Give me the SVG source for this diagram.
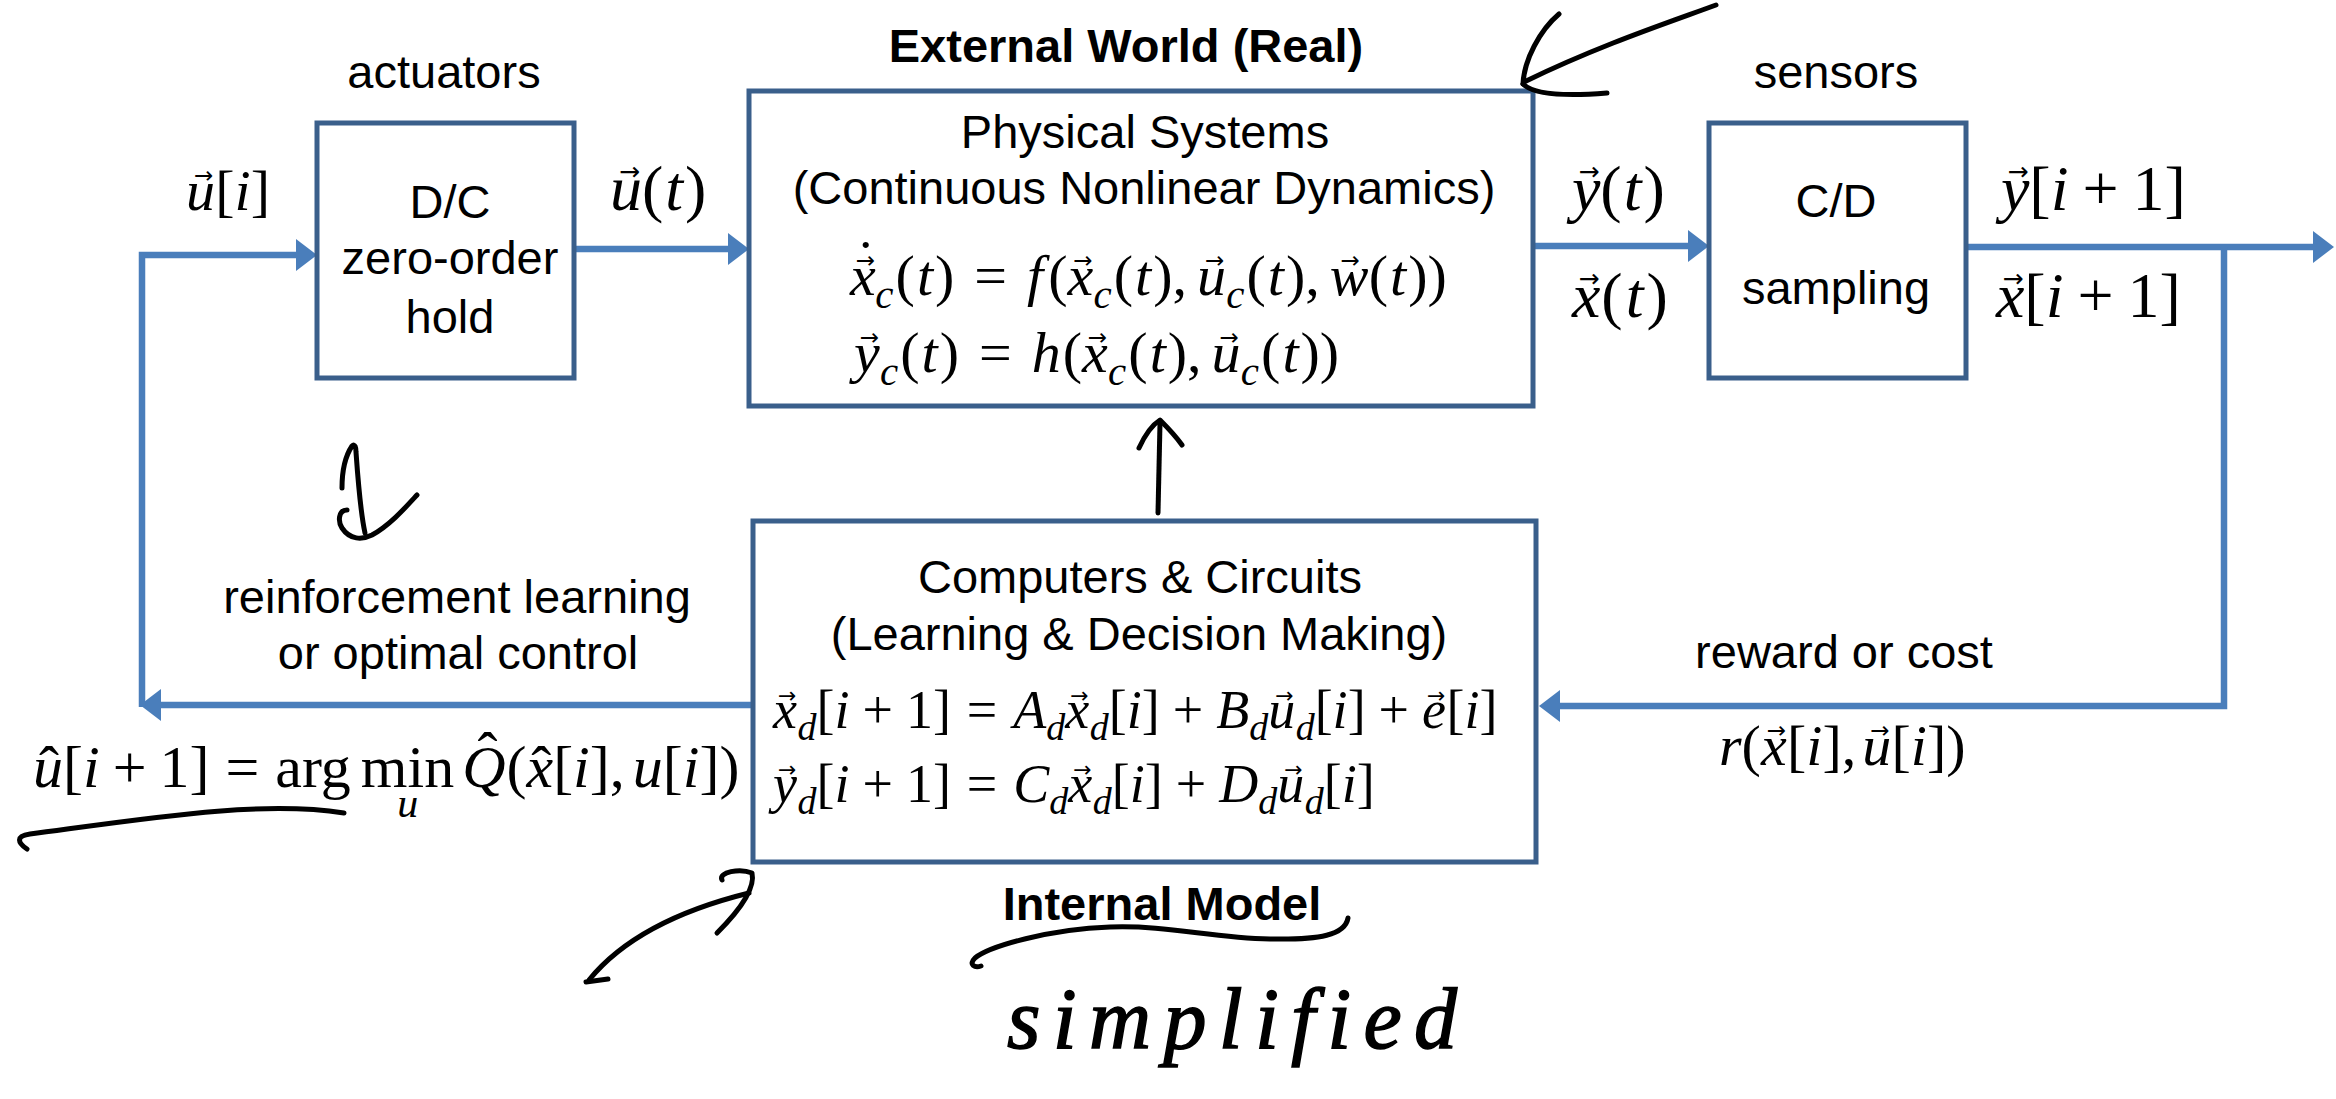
<svg xmlns="http://www.w3.org/2000/svg" width="2336" height="1099" viewBox="0 0 2336 1099">
<style>
.box{fill:#fff;stroke:#3A5F8B;stroke-width:5}
.ln{fill:none;stroke:#4A7EBB;stroke-width:6.5}
.t{font-family:"Liberation Sans",Arial,sans-serif;font-size:47px;fill:#000;text-anchor:middle}
.b{font-weight:bold}
.m{font-family:"Liberation Serif","Times New Roman",serif;font-size:54px;font-style:italic;fill:#000}
.L{font-size:58px}
.Q{font-size:60px}
.X{font-size:64px}
.r{font-style:normal}
.sb{font-size:38px}
.sbL{font-size:41px}
.sbQ{font-size:42px}
.ar{font-family:"DejaVu Sans",sans-serif;font-size:22px;font-style:normal}
.arL{font-family:"DejaVu Sans",sans-serif;font-size:23px;font-style:normal}
.arX{font-family:"DejaVu Sans",sans-serif;font-size:25px;font-style:normal}
.hw{fill:none;stroke:#000;stroke-width:5;stroke-linecap:round;stroke-linejoin:round}
.hwt{font-family:"Liberation Serif",serif;font-style:italic;font-size:86px;fill:#000;stroke:#000;stroke-width:1.5}
</style>
<defs>
<marker id="ah" markerUnits="userSpaceOnUse" markerWidth="22" markerHeight="34" refX="10" refY="16" orient="auto"><path d="M0,0 L21,16 L0,32 z" fill="#4A7EBB"/></marker>
</defs>
<rect width="2336" height="1099" fill="#fff"/>

<g id="connectors">
<path class="ln" d="M574,249 L738,249" marker-end="url(#ah)"/>
<path class="ln" d="M1533,246 L1698,246" marker-end="url(#ah)"/>
<path class="ln" d="M1966,247 L2323,247" marker-end="url(#ah)"/>
<path class="ln" d="M2224,247 L2224,706 L1550,706" marker-end="url(#ah)"/>
<path class="ln" d="M753,705 L151,705" marker-end="url(#ah)"/>
<path class="ln" d="M142,707 L142,255 L306,255" marker-end="url(#ah)"/>
</g>

<g id="node-actuators">
<rect class="box" x="317" y="123" width="257" height="255"/>
<text class="t" x="450" y="218">D/C</text>
<text class="t" x="450" y="274">zero-order</text>
<text class="t" x="450" y="333">hold</text>
</g>

<g id="node-physical">
<rect class="box" x="749" y="91" width="784" height="315"/>
<text class="t" x="1145" y="148">Physical Systems</text>
<text class="t" x="1144" y="204">(Continuous Nonlinear Dynamics)</text>
<text class="m L" x="850" y="295">x<tspan class="arL" dx="-20" dy="-27">→</tspan><tspan class="r" dx="-19" dy="12">˙</tspan><tspan class="sbL" dy="28">c</tspan><tspan class="r" dx="2" dy="-13">(</tspan><tspan dx="2">t</tspan><tspan class="r" dx="2">)</tspan><tspan class="r" dx="20">=</tspan><tspan dx="20">f</tspan><tspan class="r" dx="5">(</tspan>x<tspan class="arL" dx="-20" dy="-27">→</tspan><tspan class="sbL" dx="1" dy="40">c</tspan><tspan class="r" dx="2" dy="-13">(</tspan><tspan dx="2">t</tspan><tspan class="r" dx="2">),</tspan><tspan dx="10">u</tspan><tspan class="arL" dx="-21" dy="-27">→</tspan><tspan class="sbL" dx="2" dy="40">c</tspan><tspan class="r" dx="2" dy="-13">(</tspan><tspan dx="2">t</tspan><tspan class="r" dx="2">),</tspan><tspan dx="10">w</tspan><tspan class="arL" dx="-28" dy="-27">→</tspan><tspan class="r" dx="9" dy="27">(</tspan><tspan dx="2">t</tspan><tspan class="r" dx="2">))</tspan></text>
<text class="m L" x="854" y="372">y<tspan class="arL" dx="-20" dy="-27">→</tspan><tspan class="sbL" dx="1" dy="40">c</tspan><tspan class="r" dx="2" dy="-13">(</tspan><tspan dx="2">t</tspan><tspan class="r" dx="2">)</tspan><tspan class="r" dx="20">=</tspan><tspan dx="20">h</tspan><tspan class="r" dx="2">(</tspan>x<tspan class="arL" dx="-20" dy="-27">→</tspan><tspan class="sbL" dx="1" dy="40">c</tspan><tspan class="r" dx="2" dy="-13">(</tspan><tspan dx="2">t</tspan><tspan class="r" dx="2">),</tspan><tspan dx="10">u</tspan><tspan class="arL" dx="-21" dy="-27">→</tspan><tspan class="sbL" dx="2" dy="40">c</tspan><tspan class="r" dx="2" dy="-13">(</tspan><tspan dx="2">t</tspan><tspan class="r" dx="2">))</tspan></text>
</g>

<g id="node-sensors">
<rect class="box" x="1709" y="123" width="257" height="255"/>
<text class="t" x="1836" y="217">C/D</text>
<text class="t" x="1836" y="304">sampling</text>
</g>

<g id="node-computers">
<rect class="box" x="753" y="521" width="783" height="341"/>
<text class="t" x="1140" y="593">Computers &amp; Circuits</text>
<text class="t" x="1139" y="650">(Learning &amp; Decision Making)</text>
<text class="m" x="773" y="728">x<tspan class="ar" dx="-19" dy="-25">→</tspan><tspan class="sb" dx="1" dy="37">d</tspan><tspan class="r" dy="-12">[</tspan>i<tspan class="r" dx="13">+</tspan><tspan class="r" dx="13">1]</tspan><tspan class="r" dx="16">=</tspan><tspan dx="16">A</tspan><tspan class="sb" dy="12">d</tspan><tspan dy="-12">x</tspan><tspan class="ar" dx="-19" dy="-25">→</tspan><tspan class="sb" dx="1" dy="37">d</tspan><tspan class="r" dy="-12">[</tspan>i<tspan class="r">]</tspan><tspan class="r" dx="13">+</tspan><tspan dx="13">B</tspan><tspan class="sb" dy="12">d</tspan><tspan dy="-12">u</tspan><tspan class="ar" dx="-20" dy="-25">→</tspan><tspan class="sb" dx="2" dy="37">d</tspan><tspan class="r" dy="-12">[</tspan>i<tspan class="r">]</tspan><tspan class="r" dx="13">+</tspan><tspan dx="13">e</tspan><tspan class="ar" dx="-19" dy="-25">→</tspan><tspan class="r" dx="1" dy="25">[</tspan>i<tspan class="r">]</tspan></text>
<text class="m" x="773" y="802">y<tspan class="ar" dx="-19" dy="-25">→</tspan><tspan class="sb" dx="1" dy="37">d</tspan><tspan class="r" dy="-12">[</tspan>i<tspan class="r" dx="13">+</tspan><tspan class="r" dx="13">1]</tspan><tspan class="r" dx="16">=</tspan><tspan dx="16">C</tspan><tspan class="sb" dy="12">d</tspan><tspan dy="-12">x</tspan><tspan class="ar" dx="-19" dy="-25">→</tspan><tspan class="sb" dx="1" dy="37">d</tspan><tspan class="r" dy="-12">[</tspan>i<tspan class="r">]</tspan><tspan class="r" dx="13">+</tspan><tspan dx="13">D</tspan><tspan class="sb" dy="12">d</tspan><tspan dy="-12">u</tspan><tspan class="ar" dx="-20" dy="-25">→</tspan><tspan class="sb" dx="2" dy="37">d</tspan><tspan class="r" dy="-12">[</tspan>i<tspan class="r">]</tspan></text>
</g>

<g id="labels">
<text class="t b" x="1126" y="62">External World (Real)</text>
<text class="t" x="444" y="88">actuators</text>
<text class="t" x="1836" y="88">sensors</text>
<text class="t" x="457" y="613">reinforcement learning</text>
<text class="t" x="458" y="669">or optimal control</text>
<text class="t" x="1844" y="668">reward or cost</text>
<text class="t b" x="1162" y="920">Internal Model</text>
<text class="m L" x="186" y="210">u<tspan class="arL" dx="-21" dy="-27">→</tspan><tspan class="r" dx="2" dy="27">[</tspan>i<tspan class="r">]</tspan></text>
<text class="m X" x="610" y="210">u<tspan class="arX" dx="-23" dy="-30">→</tspan><tspan class="r" dx="2" dy="30">(</tspan><tspan dx="2">t</tspan><tspan class="r" dx="2">)</tspan></text>
<text class="m X" x="1572" y="210">y<tspan class="arX" dx="-22" dy="-30">→</tspan><tspan class="r" dx="1" dy="30">(</tspan><tspan dx="2">t</tspan><tspan class="r" dx="2">)</tspan></text>
<text class="m X" x="1572" y="317">x<tspan class="arX" dx="-22" dy="-30">→</tspan><tspan class="r" dx="2" dy="30">(</tspan><tspan dx="3">t</tspan><tspan class="r" dx="3">)</tspan></text>
<text class="m X" x="2001" y="210">y<tspan class="arX" dx="-22" dy="-30">→</tspan><tspan class="r" dx="1" dy="30">[</tspan>i<tspan class="r" dx="14">+</tspan><tspan class="r" dx="14">1]</tspan></text>
<text class="m X" x="1996" y="317">x<tspan class="arX" dx="-22" dy="-30">→</tspan><tspan class="r" dx="1" dy="30">[</tspan>i<tspan class="r" dx="14">+</tspan><tspan class="r" dx="14">1]</tspan></text>
<text class="m L" x="1719" y="765">r<tspan class="r">(</tspan>x<tspan class="arL" dx="-20" dy="-27">→</tspan><tspan class="r" dx="1" dy="27">[</tspan>i<tspan class="r">],</tspan><tspan dx="6">u</tspan><tspan class="arL" dx="-21" dy="-27">→</tspan><tspan class="r" dx="2" dy="27">[</tspan>i<tspan class="r">])</tspan></text>
<text class="m Q" x="33" y="787">u<tspan class="r" dx="-24">ˆ</tspan><tspan class="r" dx="4">[</tspan>i<tspan class="r" dx="13">+</tspan><tspan class="r" dx="13">1]</tspan><tspan class="r" dx="16">=</tspan><tspan class="r" dx="16">arg</tspan><tspan class="r" dx="10">min</tspan><tspan class="sbQ" dx="-57" dy="30">u</tspan><tspan dx="44" dy="-30">Q</tspan><tspan class="r" dx="-28" dy="-14">ˆ</tspan><tspan class="r" dx="9" dy="14">(</tspan>x<tspan class="r" dx="-22">ˆ</tspan><tspan class="r" dx="2">[</tspan>i<tspan class="r">],</tspan><tspan dx="8">u</tspan><tspan class="r">[</tspan>i<tspan class="r">])</tspan></text>
</g>

<g id="annotations">
<path class="hw" d="M1716,5 C1670,22 1600,45 1524,82"/>
<path class="hw" d="M1559,14 C1540,30 1524,60 1523,84"/>
<path class="hw" d="M1523,84 C1535,96 1570,96 1607,93"/>
<path class="hw" d="M1158,513 L1160,423"/>
<path class="hw" d="M1139,448 C1145,435 1152,425 1160,420 C1168,428 1175,435 1182,445"/>
<path class="hw" d="M342,488 C342,470 346,455 352,446 C355,443 356,448 356,452 C358,480 360,510 365,533"/>
<path class="hw" d="M347,510 C338,510 338,522 342,528 C350,540 362,540 372,535 C390,525 405,508 417,495"/>
<path class="hw" d="M344,813 C260,800 150,818 30,834 C15,836 18,843 27,849"/>
<path class="hw" d="M589,980 C615,948 660,915 749,893"/>
<path class="hw" d="M586,982 L608,979"/>
<path class="hw" d="M722,880 C718,872 740,868 752,873 C756,890 735,915 717,933"/>
<path class="hw" d="M1348,918 C1345,935 1320,940 1270,939 C1210,938 1170,925 1110,927 C1050,929 990,946 975,958 C968,965 975,968 981,966"/>
<text class="hwt" x="1007" y="1048" textLength="450" lengthAdjust="spacing">simplified</text>
</g>
</svg>
